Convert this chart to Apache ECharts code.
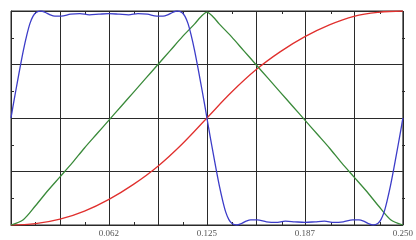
<!DOCTYPE html>
<html><head><meta charset="utf-8">
<script src="https://cdn.jsdelivr.net/npm/echarts@6/dist/echarts.min.js"></script>
<style>html,body{margin:0;padding:0;background:#fff}#c{width:416px;height:240px}</style>
</head><body><div id="c"></div>
<script>
var xTickLabels = ['', '', '0.062', '', '0.125', '', '0.187', '', '0.250'];
var greenX = [0,0.0078125,0.015625,0.0234375,0.03125,0.0390625,0.046875,0.0546875,0.0625,0.0703125,0.078125,0.0859375,0.09375,0.1015625,0.109375,0.1171875,0.121,0.125,0.129,0.1328125,0.140625,0.1484375,0.15625,0.1640625,0.171875,0.1796875,0.1875,0.1953125,0.203125,0.2109375,0.21875,0.2265625,0.234375,0.2421875,0.25];
var greenY = [0,0.025,0.09,0.16,0.225,0.29,0.36,0.425,0.49,0.555,0.62,0.685,0.75,0.815,0.88,0.94,0.972,0.995,0.972,0.94,0.88,0.815,0.75,0.685,0.62,0.555,0.49,0.425,0.36,0.29,0.225,0.16,0.09,0.025,0];
var redX = [0,0.015625,0.03125,0.046875,0.0625,0.078125,0.09375,0.109375,0.125,0.140625,0.15625,0.171875,0.1875,0.203125,0.21875,0.234375,0.25];
var redY = [0,0.006,0.027,0.065,0.12,0.19,0.275,0.38,0.5,0.62,0.725,0.81,0.88,0.935,0.975,0.994,1.0];
var blueX = [0,0.002,0.004,0.006,0.008,0.010,0.012,0.014,0.016,0.019,0.022,0.025,0.028,0.032,0.038,0.044,0.050,0.056,0.0625,0.069,0.075,0.081,0.087,0.093,0.097,0.100,0.103,0.106,0.109,0.111,0.113,0.115,0.117,0.119,0.121,0.123,0.125,
             0.127,0.129,0.131,0.133,0.135,0.137,0.139,0.141,0.144,0.147,0.150,0.153,0.157,0.163,0.169,0.175,0.181,0.1875,0.194,0.200,0.206,0.212,0.218,0.222,0.225,0.228,0.231,0.234,0.236,0.238,0.240,0.242,0.244,0.246,0.248,0.25];
var blueY = [0.5,0.585,0.665,0.745,0.82,0.885,0.94,0.975,0.993,1.0,0.993,0.982,0.976,0.976,0.985,0.988,0.982,0.985,0.988,0.985,0.982,0.988,0.985,0.976,0.976,0.982,0.993,1.0,0.993,0.975,0.94,0.885,0.82,0.745,0.665,0.585,0.5,
             0.415,0.335,0.255,0.18,0.115,0.06,0.025,0.007,0.0,0.007,0.018,0.024,0.024,0.015,0.012,0.018,0.015,0.012,0.015,0.018,0.012,0.015,0.024,0.024,0.018,0.007,0.0,0.007,0.025,0.06,0.115,0.18,0.255,0.335,0.415,0.5];

function pairs(xs, ys){ return xs.map(function(x,i){return [x, ys[i]];}); }

var lineCol = '#2a2a2a';
var GW = 394, GH = 214;
var gridBox = {left:11, right:11, top:11, bottom:15};
function tickAxis(kind, grid, pos, off){
  var a = {
    type:'value', gridIndex:grid, position:pos, offset:off,
    axisLine:{show:false, onZero:false},
    axisTick:{show:false},
    minorTick:{show:true, splitNumber:2, length:3, lineStyle:{color:lineCol}},
    splitLine:{show:false}, axisLabel:{show:false}
  };
  if (kind === 'x') { a.min = 0; a.max = 0.25; a.interval = 0.03125; }
  else { a.min = 0; a.max = 1; a.interval = 0.25; }
  return a;
}
var chart = echarts.init(document.getElementById('c'), null, {renderer:'canvas'});
chart.setOption({
  animation:false,
  backgroundColor:'#fff',
  grid:[
    Object.assign({show:true, borderColor:lineCol, borderWidth:1, backgroundColor:'transparent'}, gridBox),
    Object.assign({}, gridBox),
    Object.assign({}, gridBox)
  ],
  xAxis:[{
    type:'value', gridIndex:0, min:0, max:0.25, interval:0.03125, position:'bottom',
    axisLine:{show:true, onZero:false, lineStyle:{color:lineCol, width:1}},
    axisTick:{show:false},
    splitLine:{show:true, lineStyle:{color:lineCol, width:1}},
    axisLabel:{show:true, margin:4, color:'#555', fontFamily:'Liberation Serif', fontSize:9,
      formatter:function(v){ return xTickLabels[Math.round(v/0.03125)] || ''; }}
  },
  tickAxis('x', 1, 'top', -GH),
  tickAxis('x', 2, 'bottom', -GH)
  ],
  yAxis:[{
    type:'value', gridIndex:0, min:0, max:1, interval:0.25, position:'left',
    axisLine:{show:true, onZero:false, lineStyle:{color:lineCol, width:1}},
    axisTick:{show:false},
    splitLine:{show:true, lineStyle:{color:lineCol, width:1}},
    axisLabel:{show:false}
  },
  tickAxis('y', 1, 'right', -GW),
  tickAxis('y', 2, 'left', -GW)
  ],
  series:[
    {type:'line', xAxisIndex:0, yAxisIndex:0, data:pairs(redX, redY), smooth:0.4, showSymbol:false, lineStyle:{color:'#e0302e', width:1.3}, z:3},
    {type:'line', xAxisIndex:0, yAxisIndex:0, data:pairs(greenX, greenY), smooth:0.3, showSymbol:false, lineStyle:{color:'#3a8a3a', width:1.3}, z:4},
    {type:'line', xAxisIndex:0, yAxisIndex:0, data:pairs(blueX, blueY), smooth:0.3, showSymbol:false, lineStyle:{color:'#3c3cc8', width:1.3}, z:5}
  ]
});
</script></body></html>
